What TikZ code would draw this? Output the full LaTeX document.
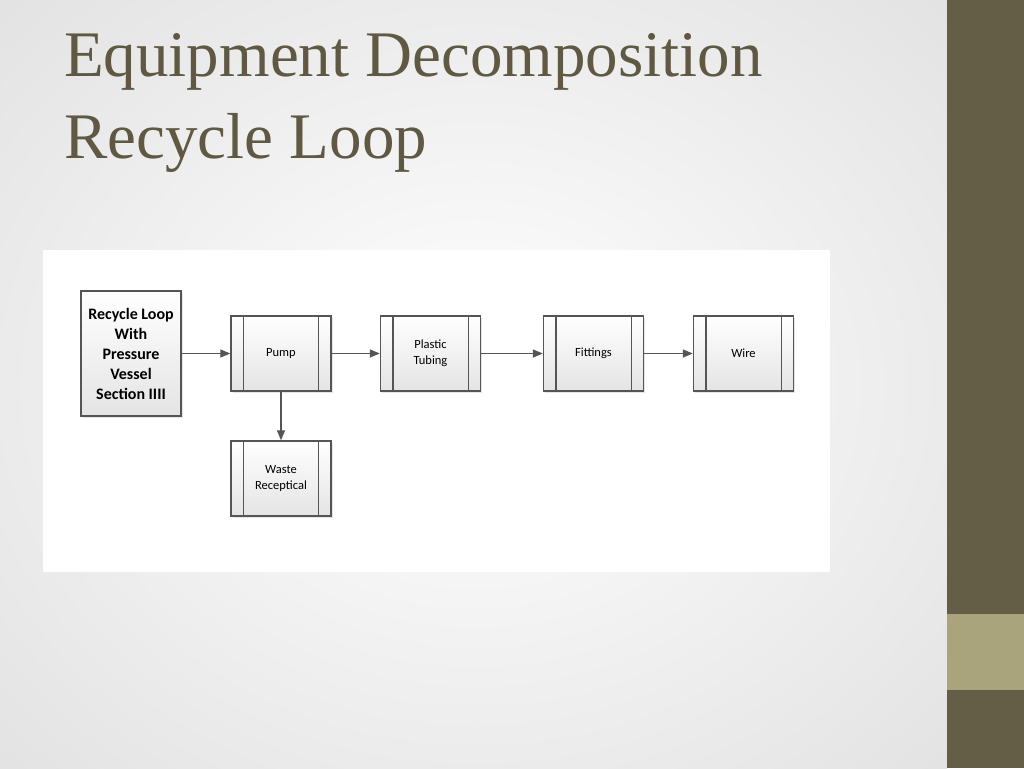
\documentclass[tikz,border=0pt]{standalone}
\usepackage{fontspec}
\setmainfont{Liberation Serif}
\newfontfamily\boxfont{Carlito}
\usetikzlibrary{arrows.meta,shadows}
\definecolor{sidebar}{HTML}{655E46}
\definecolor{band}{HTML}{A9A47C}
\definecolor{titlecol}{HTML}{5F5943}
\definecolor{linegray}{HTML}{555555}
\definecolor{boxgray}{HTML}{E4E4E4}
\begin{document}
\begin{tikzpicture}[x=1pt, y=-1pt,
   box/.style={draw=linegray, line width=1.4pt, top color=white, bottom color=boxgray,
     drop shadow={shadow xshift=1.5pt, shadow yshift=-1.5pt, opacity=0.2},
     inner sep=0pt, align=center, minimum width=100pt},
   procbox/.style={box, minimum height=75pt, font=\boxfont\fontsize{12.5}{16}\selectfont},
   flow/.style={draw=linegray, line width=1.3pt, -{Triangle[length=10pt,width=8pt]}}]
   \useasboundingbox (0,0) rectangle (1024,768);
   \begin{scope}
     \clip (0,0) rectangle (947,768);
     \shade[inner color=white, outer color=gray!22] (-180,-160) rectangle (1130,930);
   \end{scope}
   \fill[white] (43,250) rectangle (830,572);
   \fill[sidebar] (947,0) rectangle (1024,768);
   \fill[band] (947,614) rectangle (1024,690);
   \node[anchor=base west, inner sep=0pt, text=titlecol, font=\fontsize{65}{83}\selectfont]
     (title) at (64,76) {Equipment Decomposition};
   \node[anchor=base west, inner sep=0pt, text=titlecol, font=\fontsize{65}{83}\selectfont]
     (subtitle) at (64,158) {Recycle Loop};
   \node[box, minimum height=125pt, font=\boxfont\bfseries\fontsize{16}{20}\selectfont]
     (src) at (131,353.5) {Recycle Loop\\With\\Pressure\\Vessel\\Section IIII};
   \node[procbox] (pump) at (281,353.5) {Pump};
   \node[procbox] (tubing) at (430.5,353.5) {Plastic\\Tubing};
   \node[procbox] (fittings) at (593.5,353.5) {Fittings};
   \node[procbox] (wire) at (743.5,353.5) {Wire};
   \node[procbox] (waste) at (281,478.5) {Waste\\Receptical};
   \foreach \n in {pump,tubing,fittings,wire,waste} {
     \draw[linegray, line width=1.4pt] ([xshift=13pt]\n.north west) -- ([xshift=13pt]\n.south west);
     \draw[linegray, line width=1.4pt] ([xshift=-13pt]\n.north east) -- ([xshift=-13pt]\n.south east);
   }
   \draw[flow] (src) -- (pump);
   \draw[flow] (pump) -- (tubing);
   \draw[flow] (tubing) -- (fittings);
   \draw[flow] (fittings) -- (wire);
   \draw[flow] (pump) -- (waste);
\end{tikzpicture}
\end{document}
